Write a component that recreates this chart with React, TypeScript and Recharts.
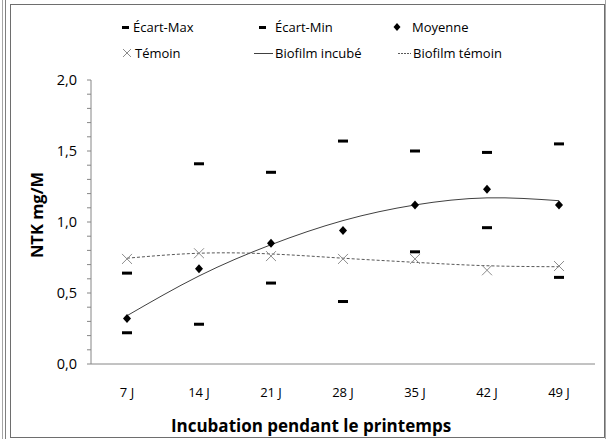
import React from 'react';
import { ComposedChart, Line, XAxis, YAxis, Legend } from 'recharts';

const categories = ['7 J', '14 J', '21 J', '28 J', '35 J', '42 J', '49 J'];
const ecartMax = [0.64, 1.41, 1.35, 1.57, 1.5, 1.49, 1.55];
const ecartMin = [0.22, 0.28, 0.57, 0.44, 0.79, 0.96, 0.61];
const moyenne = [0.32, 0.67, 0.85, 0.94, 1.12, 1.23, 1.12];
const temoin = [0.74, 0.78, 0.76, 0.74, 0.74, 0.66, 0.69];
const biofilmIncube = [0.34, 0.62, 0.84, 1.01, 1.12, 1.17, 1.15];
const biofilmTemoin = [0.745, 0.78, 0.775, 0.745, 0.716, 0.692, 0.685];
const yTicks = [0, 0.1, 0.2, 0.3, 0.4, 0.5, 0.6, 0.7, 0.8, 0.9, 1, 1.1, 1.2, 1.3, 1.4, 1.5, 1.6, 1.7, 1.8, 1.9, 2];
const yLabels = [0, 0.5, 1, 1.5, 2];

const data = categories.map((c, i) => ({
  jour: c,
  ecartMax: ecartMax[i],
  ecartMin: ecartMin[i],
  moyenne: moyenne[i],
  temoin: temoin[i],
  biofilmIncube: biofilmIncube[i],
  biofilmTemoin: biofilmTemoin[i],
}));

const FONT = '"Open Sans", sans-serif';

const Dash = (props: any) => {
  const { cx, cy } = props;
  if (cx == null || cy == null) return null;
  return <rect x={cx - 5} y={cy - 1.5} width={10} height={3} fill="#000" />;
};

const Diamond = (props: any) => {
  const { cx, cy } = props;
  if (cx == null || cy == null) return null;
  return <path d={`M${cx},${cy - 4.5}L${cx + 4},${cy}L${cx},${cy + 4.5}L${cx - 4},${cy}Z`} fill="#000" />;
};

const Cross = (props: any) => {
  const { cx, cy } = props;
  if (cx == null || cy == null) return null;
  return (
    <path
      d={`M${cx - 5},${cy - 5}L${cx + 5},${cy + 5}M${cx - 5},${cy + 5}L${cx + 5},${cy - 5}`}
      stroke="#8c8c8c"
      strokeWidth={1}
      fill="none"
    />
  );
};

const legendText: React.CSSProperties = {
  position: 'absolute',
  fontFamily: FONT,
  fontSize: 13,
  color: '#000',
  lineHeight: '16px',
  whiteSpace: 'nowrap',
};

const renderLegend = () => (
  <div style={{ position: 'relative', width: 607, height: 75 }}>
    <svg style={{ position: 'absolute', left: 0, top: 0 }} width={607} height={75}>
      <rect x={122} y={26} width={7} height={3} fill="#000" />
      <rect x={259} y={26} width={7} height={3} fill="#000" />
      <path d="M397,23L400.5,27L397,31L393.5,27Z" fill="#000" />
      <path d="M123,49L131,57M123,57L131,49" stroke="#8c8c8c" strokeWidth={1} />
      <line x1={254} y1={53.5} x2={273} y2={53.5} stroke="#404040" strokeWidth={1} />
      <line x1={398} y1={53.5} x2={411} y2={53.5} stroke="#595959" strokeWidth={1} strokeDasharray="2 1" />
    </svg>
    <span style={{ ...legendText, left: 133, top: 19 }}>Écart-Max</span>
    <span style={{ ...legendText, left: 275, top: 19 }}>Écart-Min</span>
    <span style={{ ...legendText, left: 412, top: 19 }}>Moyenne</span>
    <span style={{ ...legendText, left: 135, top: 45 }}>Témoin</span>
    <span style={{ ...legendText, left: 275, top: 45 }}>Biofilm incubé</span>
    <span style={{ ...legendText, left: 413, top: 45 }}>Biofilm témoin</span>
  </div>
);

const fmt = (v: number) => (yLabels.some((l) => Math.abs(l - v) < 1e-6) ? v.toFixed(1).replace('.', ',') : '');

export default function App() {
  return (
    <div style={{ position: 'absolute', left: 0, top: 0, width: 607, height: 439, background: '#fff' }}>
      <div style={{ position: 'absolute', left: 2, top: 0, width: 0, height: 439, borderLeft: '1px solid #a6a6a6' }} />
      <div style={{ position: 'absolute', left: 5, top: 0, width: 0, height: 439, borderLeft: '1px solid #7f7f7f' }} />
      <div
        style={{
          position: 'absolute',
          left: 10,
          top: 4,
          width: 593,
          height: 432,
          border: '1px solid #6e6e6e',
        }}
      />
      <div style={{ position: 'absolute', left: 605, top: 0, width: 0, height: 439, borderLeft: '1px solid #a6a6a6' }} />
      <div style={{ position: 'absolute', left: 0, top: 0 }}>
        <ComposedChart width={607} height={439} data={data} margin={{ top: 80, right: 12, bottom: 45, left: 31 }}>
          <XAxis
            dataKey="jour"
            height={30}
            padding={{ left: 36, right: 36 }}
            axisLine={{ stroke: '#868686' }}
            tickLine={false}
            tick={{ fill: '#000', fontSize: 13, fontFamily: FONT }}
            tickMargin={18}
            label={{
              value: 'Incubation pendant le printemps',
              position: 'bottom',
              offset: 26,
              dx: -32,
              style: { fontFamily: FONT, fontSize: 17, fontWeight: 'bold', fill: '#000' },
            }}
          />
          <YAxis
            domain={[0, 2]}
            ticks={yTicks}
            interval={0}
            width={60}
            tickFormatter={fmt}
            axisLine={{ stroke: '#868686' }}
            tickLine={{ stroke: '#868686' }}
            tickSize={4}
            tickMargin={10}
            tick={{ fill: '#000', fontSize: 14.5, fontFamily: FONT }}
            label={{
              value: 'NTK mg/M',
              angle: -90,
              position: 'center',
              dx: -24,
              dy: -7,
              style: { fontFamily: FONT, fontSize: 16.5, fontWeight: 'bold', fill: '#000', textAnchor: 'middle' },
            }}
          />
          <Legend
            content={renderLegend}
            verticalAlign="middle"
            align="center"
            layout="horizontal"
            wrapperStyle={{ left: 0, top: 0, width: 607, height: 75 }}
          />
          <Line dataKey="biofilmIncube" type="natural" stroke="#404040" strokeWidth={1} dot={false} activeDot={false} isAnimationActive={false} />
          <Line
            dataKey="biofilmTemoin"
            type="natural"
            stroke="#595959"
            strokeWidth={1}
            strokeDasharray="3 2"
            dot={false}
            activeDot={false}
            isAnimationActive={false}
          />
          <Line dataKey="ecartMax" stroke="none" dot={<Dash />} activeDot={false} isAnimationActive={false} />
          <Line dataKey="ecartMin" stroke="none" dot={<Dash />} activeDot={false} isAnimationActive={false} />
          <Line dataKey="temoin" stroke="none" dot={<Cross />} activeDot={false} isAnimationActive={false} />
          <Line dataKey="moyenne" stroke="none" dot={<Diamond />} activeDot={false} isAnimationActive={false} />
        </ComposedChart>
      </div>
    </div>
  );
}
